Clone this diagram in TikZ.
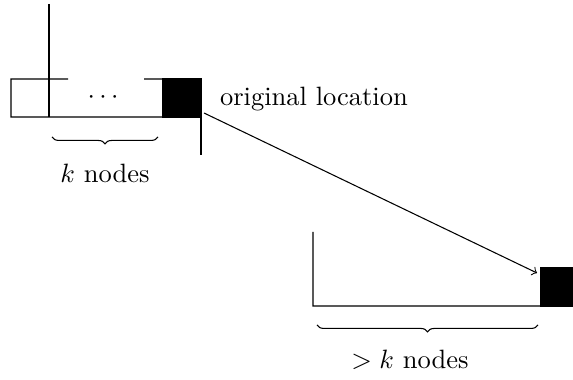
\documentclass[tikz,border=0pt]{standalone}
\usetikzlibrary{calc,decorations.pathreplacing}
\begin{document}
\begin{tikzpicture}[x=0.3774pt,y=-0.3774pt,
  blackbox/.style={draw,fill=black,minimum width=14.34pt,minimum height=14.34pt,inner sep=0pt,outer sep=0pt},
  lbl/.style={inner sep=0pt,outer sep=0pt},
  bracestyle/.style={decorate,decoration={brace,mirror,amplitude=2.6pt}}]
\useasboundingbox (0,0) rectangle (573,380);
% left array
\node[blackbox] (b1) at (182,98) {};
\coordinate (c1) at (11,79);
\coordinate (c2) at (11,117);
\draw (68,79) -- (c1) -- (c2) -- (b1.south west);
\draw (144,79) -- (b1.north west);
\draw (49,4) -- (49,117);
\draw (b1.south east) -- ++(0,38);
\node[lbl] (dots) at (103,98) {$\cdots$};
\draw[bracestyle] (52,137) -- (158,137);
\node[lbl,anchor=base] (k1) at (105,183) {$k$ nodes};
\node[lbl,anchor=base west] (orig) at (220,105.5) {original location};
% right array
\node[blackbox] (b2) at (560,287) {};
\draw (313,232) -- (313,306) -- (b2.south west);
\draw[bracestyle] (317,325) -- (538,325);
\node[lbl,anchor=base] (k2) at (410,369) {$>k$ nodes};
% arrow
\draw[->] ($(b1.south east)+(3,-4)$) -- ($(b2.north west)+(-4,5)$);
\end{tikzpicture}
\end{document}
